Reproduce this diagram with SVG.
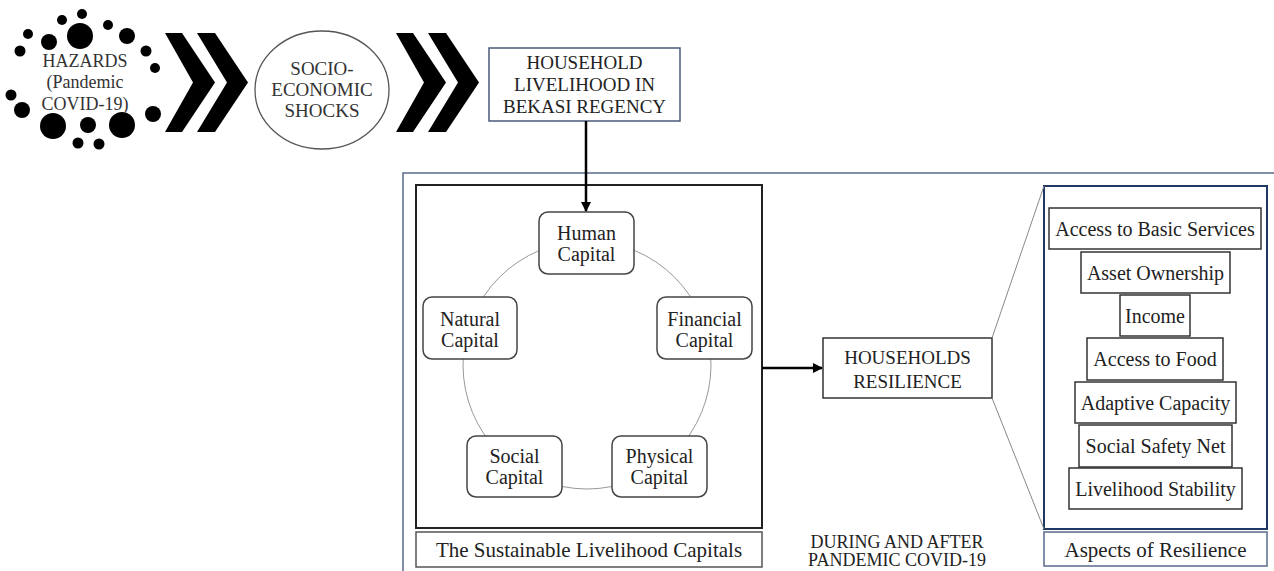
<svg xmlns="http://www.w3.org/2000/svg" width="1274" height="571" viewBox="0 0 1274 571">
<style>
text{font-family:"Liberation Serif","Times New Roman",serif;fill:#222;text-anchor:middle}
.cap{fill:#fff;stroke:#444;stroke-width:1.5}
.asp{fill:#fff;stroke:#333;stroke-width:1.5}
.dot{fill:#000}
.chev{fill:#000}
.thin{fill:none;stroke:#888;stroke-width:1}
.arrow{fill:none;stroke:#000;stroke-width:2.5;marker-end:url(#ah)}
</style>
<defs>
<marker id="ah" viewBox="0 0 10 10" refX="9" refY="5" markerWidth="4" markerHeight="4" orient="auto" markerUnits="strokeWidth">
<path d="M0,0 L10,5 L0,10 z" fill="#000"/>
</marker>
</defs>
<rect width="1274" height="571" fill="#fff"/>

<g id="hazards">
<circle class="dot" cx="82" cy="14" r="5"/>
<circle class="dot" cx="62" cy="20" r="5"/>
<circle class="dot" cx="108" cy="25" r="5"/>
<circle class="dot" cx="80" cy="36" r="13"/>
<circle class="dot" cx="127" cy="36" r="8"/>
<circle class="dot" cx="28" cy="34" r="5"/>
<circle class="dot" cx="49" cy="42" r="8"/>
<circle class="dot" cx="20" cy="51" r="5.5"/>
<circle class="dot" cx="146" cy="51" r="5.5"/>
<circle class="dot" cx="155" cy="68" r="5"/>
<circle class="dot" cx="11" cy="95" r="5.5"/>
<circle class="dot" cx="22" cy="110" r="8"/>
<circle class="dot" cx="153" cy="114" r="8"/>
<circle class="dot" cx="53" cy="126" r="13"/>
<circle class="dot" cx="88" cy="125" r="8"/>
<circle class="dot" cx="122" cy="125" r="13"/>
<circle class="dot" cx="78" cy="143" r="5.5"/>
<circle class="dot" cx="99" cy="144" r="5.5"/>
<text x="85" y="67" font-size="18" style="fill:#333">HAZARDS</text>
<text x="85" y="88" font-size="18" style="fill:#333">(Pandemic</text>
<text x="85" y="110" font-size="18" style="fill:#333">COVID-19)</text>
</g>

<g id="chevrons1">
<polygon class="chev" points="165,33 182,33 215,82.5 182,132 165,132 193,82.5"/>
<polygon class="chev" points="197,33 215,33 248,82.5 215,132 197,132 227,82.5"/>
</g>

<g id="shocks">
<ellipse cx="322" cy="90" rx="67" ry="59" fill="#fff" stroke="#555" stroke-width="1.3"/>
<text x="322" y="75" font-size="19" style="fill:#333">SOCIO-</text>
<text x="322" y="96" font-size="19" style="fill:#333">ECONOMIC</text>
<text x="322" y="117" font-size="19" style="fill:#333">SHOCKS</text>
</g>

<g id="chevrons2">
<polygon class="chev" points="396,33 413,33 446,82.5 413,132 396,132 424,82.5"/>
<polygon class="chev" points="428,33 446,33 479,82.5 446,132 428,132 458,82.5"/>
</g>

<g id="household">
<rect x="489" y="48" width="191" height="73" fill="#fff" stroke="#4a5a7a" stroke-width="1.5"/>
<text x="584.5" y="69" font-size="19">HOUSEHOLD</text>
<text x="584.5" y="91" font-size="19">LIVELIHOOD IN</text>
<text x="584.5" y="113" font-size="19">BEKASI REGENCY</text>
</g>

<g id="frame">
<rect x="403" y="173" width="900" height="450" fill="none" stroke="#5a6a8a" stroke-width="1.5"/>
</g>

<g id="slc">
<rect x="416" y="185" width="346" height="343" fill="none" stroke="#222" stroke-width="2"/>
<circle cx="587" cy="365" r="124" fill="none" stroke="#999" stroke-width="1"/>
</g>
<g id="slc-label">
<rect x="416" y="532" width="346" height="35" fill="#fff" stroke="#555" stroke-width="1.5"/>
<text x="589" y="557" font-size="21">The Sustainable Livelihood Capitals</text>
</g>

<g id="human">
<rect class="cap" x="539" y="212" width="95" height="62" rx="9"/>
<text x="586.5" y="240" font-size="20">Human</text>
<text x="586.5" y="261" font-size="20">Capital</text>
</g>
<g id="natural">
<rect class="cap" x="423" y="297" width="94" height="62" rx="9"/>
<text x="470" y="326" font-size="20">Natural</text>
<text x="470" y="347" font-size="20">Capital</text>
</g>
<g id="financial">
<rect class="cap" x="657" y="297" width="95" height="62" rx="9"/>
<text x="704.5" y="326" font-size="20">Financial</text>
<text x="704.5" y="347" font-size="20">Capital</text>
</g>
<g id="social">
<rect class="cap" x="467" y="436" width="95" height="61" rx="9"/>
<text x="514.5" y="463" font-size="20">Social</text>
<text x="514.5" y="484" font-size="20">Capital</text>
</g>
<g id="physical">
<rect class="cap" x="612" y="436" width="95" height="61" rx="9"/>
<text x="659.5" y="463" font-size="20">Physical</text>
<text x="659.5" y="484" font-size="20">Capital</text>
</g>

<g id="resilience">
<rect x="823" y="338" width="169" height="60" fill="#fff" stroke="#333" stroke-width="1.5"/>
<text x="907.5" y="364" font-size="19">HOUSEHOLDS</text>
<text x="907.5" y="388" font-size="19">RESILIENCE</text>
</g>

<g id="aspects">
<rect x="1044" y="186" width="223" height="343" fill="none" stroke="#1f3864" stroke-width="2"/>
</g>
<g id="aspects-label">
<rect x="1044" y="532" width="223" height="34" fill="#fff" stroke="#5a6a8a" stroke-width="1.5"/>
<text x="1155.5" y="557" font-size="21">Aspects of Resilience</text>
</g>

<g id="item-basic"><rect class="asp" x="1049" y="208" width="212" height="41"/><text x="1155" y="236" font-size="20">Access to Basic Services</text></g>
<g id="item-asset"><rect class="asp" x="1081" y="252" width="149" height="41"/><text x="1155.5" y="280" font-size="20">Asset Ownership</text></g>
<g id="item-income"><rect class="asp" x="1120" y="295" width="70" height="41"/><text x="1155" y="323" font-size="20">Income</text></g>
<g id="item-food"><rect class="asp" x="1087" y="338" width="136" height="42"/><text x="1155" y="366" font-size="20">Access to Food</text></g>
<g id="item-adaptive"><rect class="asp" x="1075" y="382" width="161" height="41"/><text x="1155.5" y="410" font-size="20">Adaptive Capacity</text></g>
<g id="item-safety"><rect class="asp" x="1079" y="425" width="153" height="42"/><text x="1155.5" y="453" font-size="20">Social Safety Net</text></g>
<g id="item-stability"><rect class="asp" x="1069" y="468" width="173" height="41"/><text x="1155.5" y="496" font-size="20">Livelihood Stability</text></g>

<g id="period">
<text x="897" y="548" font-size="18">DURING AND AFTER</text>
<text x="897" y="566" font-size="18">PANDEMIC COVID-19</text>
</g>

<g id="connectors">
<line class="arrow" x1="586" y1="121" x2="586" y2="211"/>
<line class="arrow" x1="762" y1="368" x2="822" y2="368"/>
<line class="thin" x1="992" y1="338" x2="1044" y2="186"/>
<line class="thin" x1="992" y1="398" x2="1044" y2="529"/>
</g>
</svg>
